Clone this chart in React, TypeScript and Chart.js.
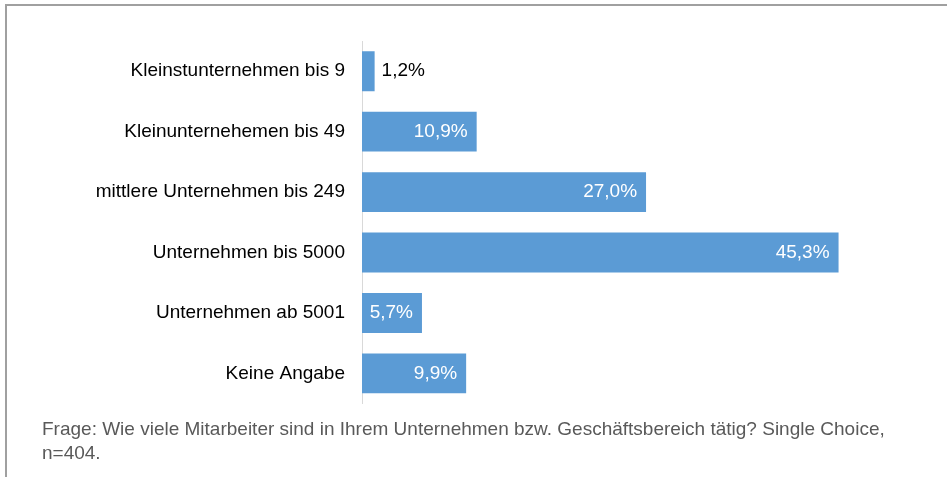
import React, { useEffect, useRef } from "react";
import { Chart, registerables } from "chart.js";

Chart.register(...registerables);

const categories = [
  "Kleinstunternehmen bis 9",
  "Kleinunternehemen bis 49",
  "mittlere Unternehmen bis 249",
  "Unternehmen bis 5000",
  "Unternehmen ab 5001",
  "Keine Angabe",
];
const values = [1.2, 10.9, 27.0, 45.3, 5.7, 9.9];
const footerLines = [
  "Frage: Wie viele Mitarbeiter sind in Ihrem Unternehmen bzw. Geschäftsbereich tätig? Single Choice,",
  "n=404.",
];

const FONT = "'Liberation Sans', Arial, sans-serif";
const fmt = (v: number) => v.toFixed(1).replace(".", ",") + "%";

const labelPlugin = {
  id: "valueLabels",
  afterDatasetsDraw(chart: any) {
    const ctx = chart.ctx;
    const meta = chart.getDatasetMeta(0);
    ctx.save();
    ctx.font = `19px ${FONT}`;
    ctx.textBaseline = "middle";
    meta.data.forEach((bar: any, i: number) => {
      const text = fmt(values[i]);
      const w = ctx.measureText(text).width;
      const barW = bar.x - bar.base;
      if (w + 14 > barW) {
        ctx.fillStyle = "#000000";
        ctx.textAlign = "left";
        ctx.fillText(text, bar.x + 7, bar.y);
      } else {
        ctx.fillStyle = "#ffffff";
        ctx.textAlign = "right";
        ctx.fillText(text, bar.x - 9, bar.y);
      }
    });
    ctx.restore();
  },
};

export default function App() {
  const ref = useRef<HTMLCanvasElement | null>(null);
  useEffect(() => {
    if (!ref.current) return;
    const chart = new Chart(ref.current, {
      type: "bar",
      data: {
        labels: categories,
        datasets: [
          {
            data: values,
            backgroundColor: "#5b9bd5",
            barPercentage: 0.66,
            categoryPercentage: 1,
          },
        ],
      },
      options: {
        indexAxis: "y",
        animation: false,
        responsive: false,
        maintainAspectRatio: false,
        layout: { padding: { top: 41, bottom: 7, left: 0, right: 59 } },
        plugins: {
          legend: { display: false },
          tooltip: { enabled: false },
          title: { display: false },
        },
        scales: {
          x: {
            display: false,
            min: 0,
            max: 50,
          },
          y: {
            afterFit: (s: any) => {
              s.width = 362;
            },
            grid: { display: false, drawTicks: false },
            border: { display: true, color: "#d9d9d9", width: 1 },
            ticks: {
              color: "#000000",
              padding: 17,
              font: { family: FONT, size: 19 },
            },
          },
        },
      },
      plugins: [labelPlugin],
    });
    return () => chart.destroy();
  }, []);

  return (
    <div
      style={{
        position: "fixed",
        left: 0,
        top: 0,
        width: 947,
        height: 477,
        background: "#ffffff",
        overflow: "hidden",
      }}
    >
      <div
        style={{
          position: "absolute",
          left: 5,
          top: 4,
          width: 960,
          height: 500,
          borderTop: "2px solid #a0a0a0",
          borderLeft: "2px solid #a0a0a0",
        }}
      />
      <canvas
        ref={ref}
        width={947}
        height={432}
        style={{ position: "absolute", left: 0, top: 0, width: 947, height: 432 }}
      />
      <div
        style={{
          position: "absolute",
          left: 42,
          top: 417,
          fontFamily: FONT,
          fontSize: 19,
          lineHeight: "24px",
          color: "#595959",
          whiteSpace: "nowrap",
        }}
      >
        {footerLines.map((l, i) => (
          <div key={i}>{l}</div>
        ))}
      </div>
    </div>
  );
}
